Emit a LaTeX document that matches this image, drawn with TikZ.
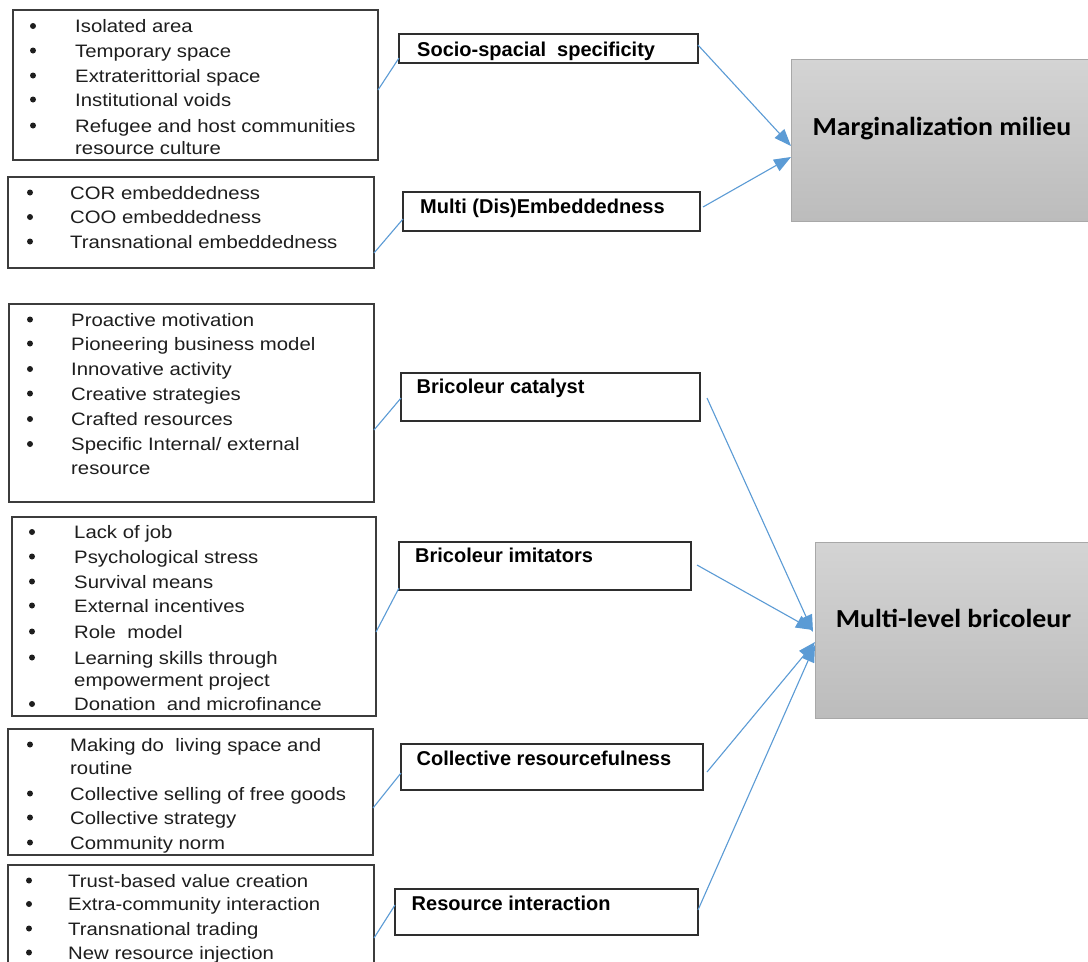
\documentclass[tikz,border=0pt]{standalone}
\usepackage{fontspec}
\setmainfont{Liberation Sans}
\newfontfamily\listfont{Liberation Sans}[FakeStretch=1.13]
\newfontfamily\labfont{Liberation Sans}
\newfontfamily\bigfont{Carlito}[FakeStretch=1.07]
\usetikzlibrary{arrows.meta,calc}
\definecolor{conn}{HTML}{5B9BD5}
\definecolor{boxline}{HTML}{3C3C3C}
\definecolor{labline}{HTML}{2E2E2E}
\definecolor{bigline}{HTML}{A8A8A8}
\definecolor{bigtop}{HTML}{D4D4D4}
\definecolor{bigbot}{HTML}{BCBCBC}
\definecolor{txt}{HTML}{1E1E1E}
\newcommand\bitem[5]{\node[bul] (#1b) at (#2,#4-6.5) {}; \node[itx] (#1) at (#3,#4) {#5};}
\begin{document}
\begin{tikzpicture}[x=1pt,y=-1pt,
  listbox/.style={draw=boxline, line width=1.4pt, inner sep=0pt, outer sep=0pt, anchor=north west},
  labbox/.style={draw=labline, line width=1.4pt, inner sep=0pt, outer sep=0pt, anchor=north west},
  bigbox/.style={draw=bigline, line width=1pt, top color=bigtop, bottom color=bigbot, inner sep=0pt, outer sep=0pt, anchor=north west},
  itx/.style={anchor=base west, inner sep=0pt, font=\listfont\fontsize{18}{22}\selectfont, text=txt},
  bul/.style={circle, fill=txt, inner sep=0pt, minimum size=6pt},
  labtx/.style={anchor=base west, inner sep=0pt, font=\labfont\bfseries\fontsize{20}{24}\selectfont},
  bigtx/.style={anchor=base, inner sep=0pt, font=\bigfont\bfseries\fontsize{26}{30}\selectfont, text=black},
  link/.style={draw=conn, line width=1.1pt},
  arr/.style={draw=conn, line width=1.1pt, -{Triangle[length=17pt,width=13pt]}}
]
\fill[white] (0,0) rectangle (1088,962);
\useasboundingbox (0,0) rectangle (1088,962);

% list boxes
\node[listbox, minimum width=365pt, minimum height=150pt] (A) at (13,10) {};
\node[listbox, minimum width=366pt, minimum height=91pt] (B) at (8,177) {};
\node[listbox, minimum width=365pt, minimum height=198pt] (C) at (9,304) {};
\node[listbox, minimum width=364pt, minimum height=199pt] (D) at (12,517) {};
\node[listbox, minimum width=365pt, minimum height=126pt] (E) at (8,729) {};
\node[listbox, minimum width=366pt, minimum height=120pt] (F) at (8,865) {};

% label boxes
\node[labbox, minimum width=299pt, minimum height=29pt] (S) at (399,34) {};
\node[labbox, minimum width=297pt, minimum height=39pt] (M) at (403,192) {};
\node[labbox, minimum width=299pt, minimum height=48pt] (BC) at (401,373) {};
\node[labbox, minimum width=292pt, minimum height=48pt] (BI) at (399,542) {};
\node[labbox, minimum width=302pt, minimum height=46pt] (CR) at (401,744) {};
\node[labbox, minimum width=303pt, minimum height=46pt] (RI) at (395,889) {};

\node[labtx] (St) at (417,56) {Socio-spacial\ \ specificity};
\node[labtx] (Mt) at (420,213) {Multi (Dis)Embeddedness};
\node[labtx] (BCt) at (416.5,393) {Bricoleur catalyst};
\node[labtx] (BIt) at (415,562.5) {Bricoleur imitators};
\node[labtx] (CRt) at (416.5,765) {Collective resourcefulness};
\node[labtx] (RIt) at (411.5,910.5) {Resource interaction};

% big boxes
\node[bigbox, minimum width=300pt, minimum height=162pt] (MM) at (791,59) {};
\node[bigbox, minimum width=276pt, minimum height=176pt] (MB) at (815,542) {};
\node[bigtx] (MMt) at (942,135) {Marginalization milieu};
\node[bigtx] (MBt) at (953.5,627) {Multi-level bricoleur};

% list A
\bitem{a1}{33}{75}{32.5}{Isolated area}
\bitem{a2}{33}{75}{57}{Temporary space}
\bitem{a3}{33}{75}{82}{Extraterittorial space}
\bitem{a4}{33}{75}{106}{Institutional voids}
\bitem{a5}{33}{75}{132}{Refugee and host communities}
\node[itx] (a6) at (75,154.5) {resource culture};
% list B
\bitem{b1}{30}{70}{199}{COR embeddedness}
\bitem{b2}{30}{70}{223.5}{COO embeddedness}
\bitem{b3}{30}{70}{248}{Transnational embeddedness}
% list C
\bitem{c1}{30}{71}{326}{Proactive motivation}
\bitem{c2}{30}{71}{350}{Pioneering business model}
\bitem{c3}{30}{71}{375.5}{Innovative activity}
\bitem{c4}{30}{71}{400}{Creative strategies}
\bitem{c5}{30}{71}{425.5}{Crafted resources}
\bitem{c6}{30}{71}{450.5}{Specific Internal/ external}
\node[itx] (c7) at (71,474) {resource};
% list D
\bitem{d1}{32}{74}{538.5}{Lack of job}
\bitem{d2}{32}{74}{563}{Psychological stress}
\bitem{d3}{32}{74}{588}{Survival means}
\bitem{d4}{32}{74}{612}{External incentives}
\bitem{d5}{32}{74}{638}{Role\ \ model}
\bitem{d6}{32}{74}{664}{Learning skills through}
\node[itx] (d7) at (74,686.5) {empowerment project};
\bitem{d8}{32}{74}{710.5}{Donation\ \ and microfinance}
% list E
\bitem{e1}{30}{70}{751}{Making do\ \ living space and}
\node[itx] (e2) at (70,774) {routine};
\bitem{e3}{30}{70}{800}{Collective selling of free goods}
\bitem{e4}{30}{70}{824}{Collective strategy}
\bitem{e5}{30}{70}{849}{Community norm}
% list F
\bitem{f1}{29}{68}{887}{Trust-based value creation}
\bitem{f2}{29}{68}{910.5}{Extra-community interaction}
\bitem{f3}{29}{68}{935}{Transnational trading}
\bitem{f4}{29}{68}{959}{New resource injection}

% links list -> label
\draw[link] (A.east |- 0,90) -- (S.west |- 0,58);
\draw[link] (B.east |- 0,253) -- (M.west |- 0,219);
\draw[link] (C.east |- 0,430) -- (BC.west |- 0,398);
\draw[link] (D.east |- 0,632) -- (BI.west |- 0,588);
\draw[link] (E.east |- 0,808) -- (CR.west |- 0,773);
\draw[link] (F.east |- 0,938) -- (RI.west |- 0,905);

% arrows label -> big
\draw[arr] (S.east |- 0,45) -- (MM.west |- 0,146);
\draw[arr] ($(M.east |- 0,207)+(3,0)$) -- (MM.west |- 0,157);
\draw[arr] ($(BC.east |- 0,398)+(7,0)$) -- ($(MB.west |- 0,632)+(-2,0)$);
\draw[arr] ($(BI.east |- 0,565)+(6,0)$) -- ($(MB.west |- 0,630)+(-2,0)$);
\draw[arr] ($(CR.east |- 0,772)+(4,0)$) -- (MB.west |- 0,642);
\draw[arr] (RI.east |- 0,910) -- (MB.west |- 0,645);
\end{tikzpicture}
\end{document}
